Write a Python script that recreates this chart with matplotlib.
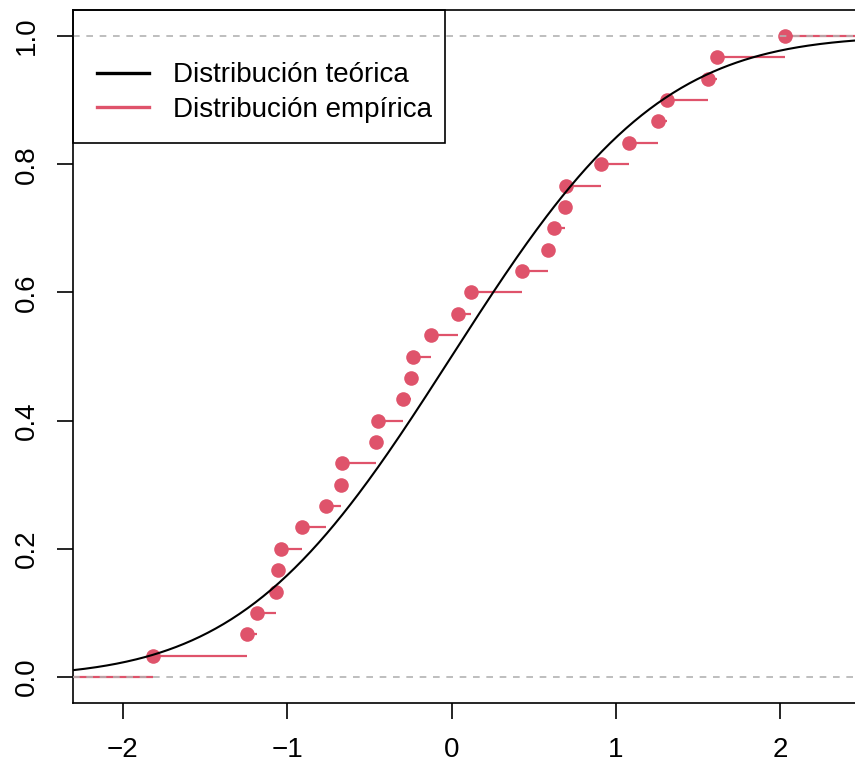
import numpy as np
import matplotlib
matplotlib.use("Agg")
import matplotlib.pyplot as plt
from matplotlib.lines import Line2D
from matplotlib.patches import Rectangle
from math import erf, sqrt

# Sorted sample values
sample_x = [-1.819, -1.243, -1.186, -1.070, -1.054, -1.038, -0.908, -0.764, -0.673, -0.666,
            -0.459, -0.447, -0.293, -0.248, -0.232, -0.125, 0.038, 0.121, 0.427, 0.589,
            0.622, 0.689, 0.697, 0.908, 1.080, 1.255, 1.313, 1.561, 1.616, 2.032]
x_ticks = [-2, -1, 0, 1, 2]
x_tick_labels = ["\u22122", "\u22121", "0", "1", "2"]
y_ticks = [0.0, 0.2, 0.4, 0.6, 0.8, 1.0]
y_tick_labels = ["0.0", "0.2", "0.4", "0.6", "0.8", "1.0"]
legend_labels = ["Distribución teórica", "Distribución empírica"]

RED = "#DF536B"
plt.rcParams['font.family'] = ['Liberation Sans', 'DejaVu Sans']
FS = 20

fig = plt.figure(figsize=(8.55, 7.64), dpi=100)
W, H = 855, 764
left_px, right_px, top_px, bottom_px = 73, 863.5, 10, 703
ax = fig.add_axes([left_px / W, 1 - bottom_px / H, (right_px - left_px) / W, (bottom_px - top_px) / H])

x0px, upx = 451.5, 164.3
xmin = (left_px - x0px) / upx
xmax = (right_px - x0px) / upx
ax.set_xlim(xmin, xmax)
ax.set_ylim(-0.0406, 1.0406)

n = len(sample_x)
xs = np.array(sample_x)
ys = np.arange(1, n + 1) / n

# empirical steps
ax.plot([xmin, xs[0]], [0, 0], color=RED, lw=1.6, solid_capstyle='butt', zorder=2)
for i in range(n):
    xe = xs[i + 1] if i + 1 < n else xmax
    ax.plot([xs[i], xe], [ys[i], ys[i]], color=RED, lw=1.6, solid_capstyle='butt', zorder=2)
ax.plot(xs, ys, 'o', color=RED, ms=10.5, mec='none', zorder=3)

# theoretical
xx = np.linspace(xmin, xmax, 400)
yy = np.array([0.5 * (1 + erf(v / sqrt(2))) for v in xx])
ax.plot(xx, yy, color='black', lw=1.5, zorder=4)

for h in (0, 1):
    ax.axhline(h, color='#B3B3B3', lw=1.2, ls=(0, (4, 4)), zorder=5)

ax.set_xticks(x_ticks)
ax.set_xticklabels(x_tick_labels, fontsize=FS)
ax.set_yticks(y_ticks)
ax.set_yticklabels(y_tick_labels, fontsize=FS, rotation=90, va='center')
ax.tick_params(axis='both', direction='out', length=11.5, width=1.2)
ax.tick_params(axis='x', pad=13)
ax.tick_params(axis='y', pad=12)
for s in ax.spines.values():
    s.set_linewidth(1.2)

# legend box (top-left, touching axes)
box_right = (445 - x0px) / upx
box_bottom = (677 - 143) / 641
ax.add_patch(Rectangle((xmin, box_bottom), box_right - xmin, 1.0406 - box_bottom,
                       fill=False, edgecolor='black', lw=1.2, zorder=6, clip_on=False))

handles = [Line2D([], [], color='black', lw=2.4), Line2D([], [], color=RED, lw=2.4)]
leg = ax.legend(handles, legend_labels, loc='center left',
                bbox_to_anchor=((97 - left_px) / (right_px - left_px), (bottom_px - 92.5) / (bottom_px - top_px)),
                fontsize=FS, frameon=False, borderaxespad=0, borderpad=0,
                handlelength=1.87, handletextpad=0.86, labelspacing=0.3)
leg.set_zorder(10)

fig.savefig("out.png", dpi=100)
